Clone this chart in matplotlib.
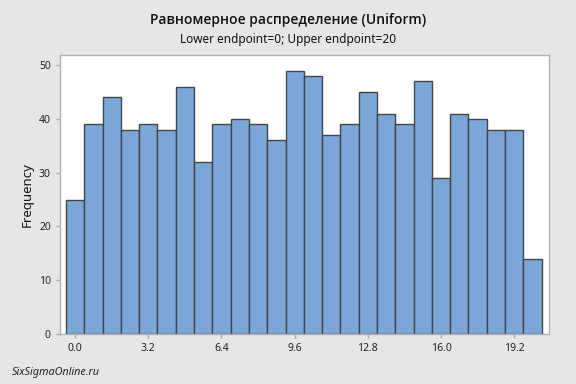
import matplotlib.pyplot as plt
import numpy as np

plt.rcParams['font.family'] = ['Noto Sans', 'DejaVu Sans']

# bin midpoints and counts
mids = np.arange(26) * 0.8
counts = [25, 39, 44, 38, 39, 38, 46, 32, 39, 40, 39, 36, 49,
          48, 37, 39, 45, 41, 39, 47, 29, 41, 40, 38, 38, 14]
xticks = [0.0, 3.2, 6.4, 9.6, 12.8, 16.0, 19.2]
xticklabels = ['0.0', '3.2', '6.4', '9.6', '12.8', '16.0', '19.2']
yticks = [0, 10, 20, 30, 40, 50]

fig = plt.figure(figsize=(5.76, 3.84), dpi=100, facecolor='#e6e6e6')
ax = fig.add_axes([60 / 576, 1 - 334 / 384, 489 / 576, 279 / 384])
ax.set_facecolor('white')

ax.bar(mids, counts, width=0.8, color='#7ba7d8', edgecolor='#444444', linewidth=1.0)

ax.set_xlim(-0.66, 20.72)
ax.set_ylim(0, 51.9)
ax.set_xticks(xticks)
ax.set_xticklabels(xticklabels)
ax.set_yticks(yticks)
ax.tick_params(axis='both', labelsize=7.5, colors='#aaaaaa', labelcolor='#222222', length=3, width=1)
ax.set_ylabel('Frequency', fontsize=9.5, color='#111111', labelpad=4)
for s in ax.spines.values():
    s.set_color('#b0b0b0')
    s.set_linewidth(1.0)

fig.text(0.5, 1 - 20 / 384, 'Равномерное распределение (Uniform)', ha='center', va='center',
         fontsize=10, fontweight=600, family=['Open Sans', 'DejaVu Sans'], color='#111111')
fig.text(0.5, 1 - 40 / 384, 'Lower endpoint=0; Upper endpoint=20', ha='center', va='center',
         fontsize=8.5, color='#111111')
fig.text(12 / 576, 1 - 372 / 384, 'SixSigmaOnline.ru', ha='left', va='center',
         fontsize=7.8, style='italic', color='#222222')

fig.savefig('out.png', dpi=100, facecolor=fig.get_facecolor())
